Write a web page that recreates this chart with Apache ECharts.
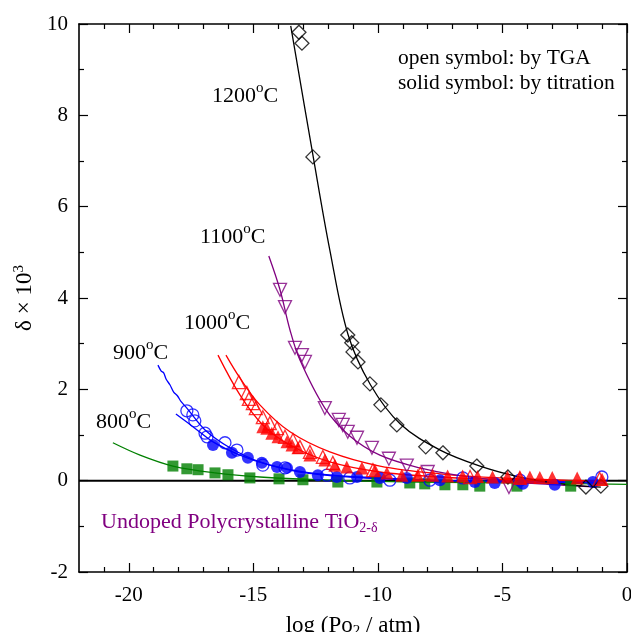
<!DOCTYPE html>
<html>
<head>
<meta charset="utf-8">
<script src="https://cdn.jsdelivr.net/npm/echarts@6/dist/echarts.min.js"></script>
<style>html,body{margin:0;padding:0;background:#fff}#c{width:631px;height:632px}</style>
</head>
<body>
<div id="c"></div>
<script>
// ---- data (x = log(Po2/atm), y = delta x 10^3) ----
const xMajorTicks = [-20, -15, -10, -5, 0];
const xMinorTicks = [-21, -19, -18, -17, -16, -14, -13, -12, -11, -9, -8, -7, -6, -4, -3, -2, -1];
const yTicks = [-2, 0, 2, 4, 6, 8, 10];
const yMinorTicks = [-1, 1, 3, 5, 7, 9];

const t1200Open = [[-13.17,9.82],[-13.05,9.58],[-12.61,7.09],[-11.21,3.19],[-11.05,3.02],[-11.00,2.82],[-10.80,2.60],[-10.32,2.12],[-9.88,1.66],[-9.24,1.22],[-8.08,0.74],[-7.39,0.61],[-6.03,0.32],[-4.78,0.08],[-1.65,-0.14],[-1.05,-0.12]];
const t1200Fit = [[-13.5,9.96],[-12.6,7.1],[-11.93,5.05],[-11.2,3.2],[-10.3,2.1],[-9.1,1.24],[-7.5,0.67],[-5.9,0.32],[-4.3,0.08],[-2.7,-0.07],[-1.05,-0.14]];

const t1100Open = [[-13.93,4.18],[-13.73,3.80],[-13.33,2.91],[-13.05,2.75],[-12.93,2.60],[-12.13,1.59],[-11.57,1.33],[-11.41,1.22],[-11.21,1.07],[-10.84,0.94],[-10.24,0.72],[-9.56,0.48],[-8.84,0.33],[-8.00,0.19],[-4.74,-0.14]];
const t1100Fit = [[-14.38,4.92],[-13.93,4.18],[-13.53,3.30],[-13.13,2.64],[-12.13,1.59],[-11.13,0.98],[-9.92,0.56],[-8.32,0.28],[-6.71,0.11],[-5.11,0.0],[-3.5,-0.07],[-1.21,-0.14]];

const t1000Open = [[-15.58,2.16],[-15.26,1.92],[-15.18,1.79],[-15.02,1.70],[-14.90,1.59],[-14.62,1.39],[-14.34,1.26],[-14.05,1.15],[-13.73,0.96],[-13.41,0.89],[-13.13,0.74],[-12.73,0.63],[-12.21,0.52],[-11.81,0.39],[-10.2,0.23],[-8.3,0.15],[-6.3,0.08],[-4.3,0.06],[-1.1,0.04]];
const t1000Solid = [[-14.62,1.18],[-14.46,1.15],[-14.26,1.04],[-14.01,0.96],[-13.65,0.85],[-13.45,0.78],[-13.21,0.72],[-12.73,0.56],[-12.13,0.45],[-11.73,0.34],[-11.25,0.30],[-10.64,0.28],[-10.12,0.23],[-9.64,0.17],[-9.04,0.12],[-8.40,0.12],[-7.8,0.12],[-7.2,0.10],[-6.6,0.10],[-6.0,0.09],[-5.4,0.08],[-4.8,0.08],[-4.3,0.07],[-3.9,0.08],[-3.5,0.07],[-3.0,0.07],[-2.0,0.06],[-1.0,0.03]];
const t1000FitSolid = [[-16.42,2.75],[-15.54,1.88],[-14.62,1.22],[-13.53,0.78],[-11.93,0.41],[-9.92,0.19],[-7.51,0.08],[-5.11,0.03],[-1.09,-0.01]];
const t1000FitOpen = [[-16.10,2.75],[-15.54,2.25],[-14.74,1.66],[-13.53,1.07],[-11.93,0.63],[-9.92,0.32],[-7.51,0.15],[-5.11,0.06],[-1.09,-0.01]];

const t900Open = [[-17.67,1.53],[-17.43,1.44],[-17.35,1.31],[-16.94,1.04],[-16.86,0.96],[-16.14,0.83],[-15.66,0.67],[-14.62,0.34],[-13.73,0.28],[-12.05,0.12],[-11.13,0.06],[-9.52,0.01],[-7.92,0.01],[-6.59,0.06],[-4.30,0.01],[-1.01,0.08]];
const t900Solid = [[-16.62,0.78],[-15.86,0.61],[-15.22,0.50],[-14.66,0.39],[-14.05,0.30],[-13.65,0.28],[-13.13,0.19],[-12.41,0.12],[-11.65,0.08],[-10.84,0.08],[-9.92,0.06],[-8.84,0.06],[-7.51,0.01],[-6.11,-0.03],[-5.31,-0.05],[-4.18,-0.07],[-2.90,-0.09],[-1.37,-0.03]];
const t900FitOpen = [[-18.83,2.53],[-18.7,2.40],[-18.6,2.36],[-18.5,2.22],[-18.35,2.10],[-18.2,1.94],[-18.05,1.86],[-17.9,1.73],[-17.67,1.59],[-16.94,1.11],[-15.94,0.72],[-14.74,0.41],[-13.13,0.19],[-11.13,0.08],[-8.32,0.01],[-5.11,-0.01],[-1.09,-0.03]];
const t900FitSolid = [[-18.11,1.46],[-17.35,1.15],[-16.62,0.85],[-15.54,0.56],[-14.34,0.34],[-12.73,0.17],[-10.72,0.08],[-7.92,0.01],[-4.30,-0.03],[-1.09,-0.05]];

const t800Solid = [[-18.23,0.32],[-17.67,0.26],[-17.22,0.24],[-16.54,0.17],[-16.02,0.13],[-15.14,0.06],[-13.97,0.04],[-13.01,0.02],[-11.61,-0.03],[-10.04,-0.03],[-8.72,-0.05],[-8.12,-0.07],[-7.31,-0.09],[-6.59,-0.09],[-5.91,-0.12],[-4.42,-0.12],[-2.26,-0.12]];
const t800Fit = [[-20.64,0.83],[-19.55,0.56],[-18.23,0.32],[-16.54,0.17],[-14.74,0.08],[-11.93,0.01],[-8.32,-0.03],[-4.30,-0.05],[0,-0.08]];

const zeroLine = [[-22,0],[0,0]];

// ---- chart ----
const FONT = 'Liberation Serif';
const BLACK = '#000000', PURPLE = '#800080', RED = '#ff0000', BLUE = '#0000ff', GREEN = '#008000';
const chart = echarts.init(document.getElementById('c'), null, {renderer: 'canvas'});

function fit(data, color, z) {
  return {type: 'line', data, xAxisIndex: 0, yAxisIndex: 0, showSymbol: false, symbol: 'none', smooth: 0.35,
    lineStyle: {color, width: 1.3}, z: z || 3, silent: true, animation: false};
}
function pts(data, color, symbol, size, open, rotate, z) {
  return {type: 'scatter', data, xAxisIndex: 0, yAxisIndex: 0, symbol, symbolSize: size, symbolRotate: rotate || 0,
    itemStyle: open ? {color: 'rgba(255,255,255,0)', borderColor: color, borderWidth: 1.3} : {color, borderWidth: 0},
    z: z || 4, silent: true, animation: false};
}

const axisLineStyle = {onZero: false, lineStyle: {color: BLACK, width: 1.6}};
const noLine = {show: false, onZero: false};
const tickStyle = {color: BLACK, width: 1.2};
const xBase = {type: 'value', min: -22, max: 0, gridIndex: 0, splitLine: {show: false}};
const yBase = {type: 'value', min: -2, max: 10, gridIndex: 0, splitLine: {show: false}};
const supRich = {s: {fontSize: 15, fontFamily: FONT, verticalAlign: 'top', padding: [0, 0, 16, 0]}};

function tempLabel(txt, left, top) {
  return {type: 'text', left, top, style: {text: txt + '{s|o}C', font: '22px "Liberation Serif"', fill: BLACK, rich: supRich}};
}

const option = {
  backgroundColor: '#fff',
  animation: false,
  grid: {left: 79, right: 4, top: 24, bottom: 60, containLabel: false, outerBoundsMode: 'none'},
  xAxis: [
    Object.assign({}, xBase, {position: 'bottom', axisLine: axisLineStyle,
      axisTick: {inside: true, length: 9, lineStyle: tickStyle, customValues: xMajorTicks},
      axisLabel: {customValues: xMajorTicks, color: BLACK, fontFamily: FONT, fontSize: 21, margin: 13},
      name: 'log (Po{sub|2} / atm)', nameLocation: 'middle', nameGap: 41,
      nameTextStyle: {color: BLACK, fontFamily: FONT, fontSize: 23, rich: {sub: {fontFamily: FONT, fontSize: 15, verticalAlign: 'bottom', padding: [11, 0, 0, 0], color: BLACK}}}}),
    Object.assign({}, xBase, {position: 'bottom', axisLine: noLine,
      axisTick: {inside: true, length: 5, lineStyle: tickStyle, customValues: xMinorTicks},
      axisLabel: {show: false}}),
    Object.assign({}, xBase, {position: 'top', axisLine: axisLineStyle,
      axisTick: {inside: true, length: 9, lineStyle: tickStyle, customValues: xMajorTicks},
      axisLabel: {show: false}}),
    Object.assign({}, xBase, {position: 'top', axisLine: noLine,
      axisTick: {inside: true, length: 5, lineStyle: tickStyle, customValues: xMinorTicks},
      axisLabel: {show: false}})
  ],
  yAxis: [
    Object.assign({}, yBase, {position: 'left', axisLine: axisLineStyle,
      axisTick: {inside: true, length: 9, lineStyle: tickStyle, customValues: yTicks},
      axisLabel: {color: BLACK, fontFamily: FONT, fontSize: 21, margin: 11, customValues: yTicks},
      name: 'δ × 10{sup|3}', nameLocation: 'middle', nameGap: 35, nameRotate: 90,
      nameTextStyle: {color: BLACK, fontFamily: FONT, fontSize: 23, rich: {sup: {fontFamily: FONT, fontSize: 15, verticalAlign: 'top', padding: [0, 0, 12, 0], color: BLACK}}}}),
    Object.assign({}, yBase, {position: 'left', axisLine: noLine,
      axisTick: {inside: true, length: 5, lineStyle: tickStyle, customValues: yMinorTicks},
      axisLabel: {show: false}}),
    Object.assign({}, yBase, {position: 'right', axisLine: axisLineStyle,
      axisTick: {inside: true, length: 9, lineStyle: tickStyle, customValues: yTicks},
      axisLabel: {show: false}}),
    Object.assign({}, yBase, {position: 'right', axisLine: noLine,
      axisTick: {inside: true, length: 5, lineStyle: tickStyle, customValues: yMinorTicks},
      axisLabel: {show: false}})
  ],
  series: [
    {type: 'line', data: zeroLine, showSymbol: false, symbol: 'none', lineStyle: {color: BLACK, width: 2}, z: 2, silent: true},
    fit(t800Fit, GREEN),
    fit(t900FitOpen, BLUE),
    fit(t900FitSolid, BLUE),
    fit(t1000FitOpen, RED),
    fit(t1000FitSolid, RED),
    fit(t1100Fit, PURPLE),
    fit(t1200Fit, BLACK),
    pts(t800Solid, GREEN, 'rect', 11, false),
    pts(t900Solid, BLUE, 'circle', 12, false),
    pts(t900Open, BLUE, 'circle', 12, true),
    pts(t1000Open, RED, 'triangle', 13, true),
    pts(t1000Solid, RED, 'triangle', 13, false, 0, 5),
    pts(t1100Open, PURPLE, 'triangle', 13, true, 180),
    pts(t1200Open, BLACK, 'diamond', 14, true)
  ],
  graphic: [
    tempLabel('1200', 212, 81),
    tempLabel('1100', 200, 222),
    tempLabel('1000', 184, 308),
    tempLabel('900', 113, 338),
    tempLabel('800', 96, 407),
    {type: 'text', left: 398, top: 47, style: {text: 'open symbol: by TGA', font: '21.5px "Liberation Serif"', fill: BLACK}},
    {type: 'text', left: 398, top: 72, style: {text: 'solid symbol: by titration', font: '21.5px "Liberation Serif"', fill: BLACK}},
    {type: 'text', left: 101, top: 511, style: {text: 'Undoped Polycrystalline TiO{s|2-δ}', font: '22px "Liberation Serif"', fill: PURPLE, rich: {s: {fontSize: 14, fontFamily: FONT, fill: PURPLE, verticalAlign: 'bottom', padding: [12, 0, 0, 0]}}}}
  ]
};
chart.setOption(option);
</script>
</body>
</html>
